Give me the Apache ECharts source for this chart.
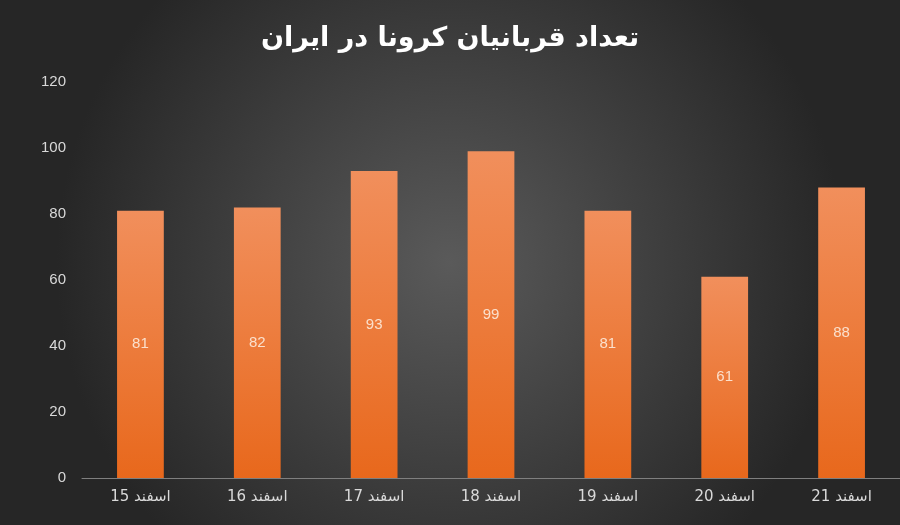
<!DOCTYPE html>
<html><head><meta charset="utf-8">
<script src="https://cdn.jsdelivr.net/npm/echarts@6/dist/echarts.min.js"></script>
<style>html,body{margin:0;padding:0;}#c{width:900px;height:525px;}</style>
</head><body><div id="c"></div>
<script>
const categories = ["اسفند 15","اسفند 16","اسفند 17","اسفند 18","اسفند 19","اسفند 20","اسفند 21"];
const deaths = [81, 82, 93, 99, 81, 61, 88];
const yTicks = [0, 20, 40, 60, 80, 100, 120];
const chart = echarts.init(document.getElementById('c'));
chart.setOption({
  backgroundColor: {type:'radial', x:0.5, y:0.5, r:0.75, colorStops:[{offset:0,color:'#5a5a5a'},{offset:1,color:'#262626'}]},
  title: {text:'تعداد قربانیان کرونا در ایران', left:'center', top:20,
    textStyle:{color:'#ffffff', fontSize:27, fontWeight:'bold', fontFamily:'DejaVu Sans'}},
  grid: {left:82, right:0, top:82, bottom:47},
  xAxis: {type:'category', data:categories,
    axisLine:{lineStyle:{color:'#7f7f7f'}}, axisTick:{show:false},
    axisLabel:{color:'#d9d9d9', fontSize:15, margin:12, fontFamily:'DejaVu Sans'}},
  yAxis: {type:'value', min:yTicks[0], max:yTicks[yTicks.length-1], interval:20,
    splitLine:{show:false}, axisLine:{show:false}, axisTick:{show:false},
    axisLabel:{color:'#d9d9d9', fontSize:15, margin:16}},
  series: [{type:'bar', data:deaths, barWidth:'40%',
    itemStyle:{color:{type:'linear',x:0,y:0,x2:0,y2:1,colorStops:[{offset:0,color:'#f18f5c'},{offset:1,color:'#e8681c'}]}},
    label:{show:true, position:'inside', color:'#fbe0cc', fontSize:15}}]
});
</script></body></html>
